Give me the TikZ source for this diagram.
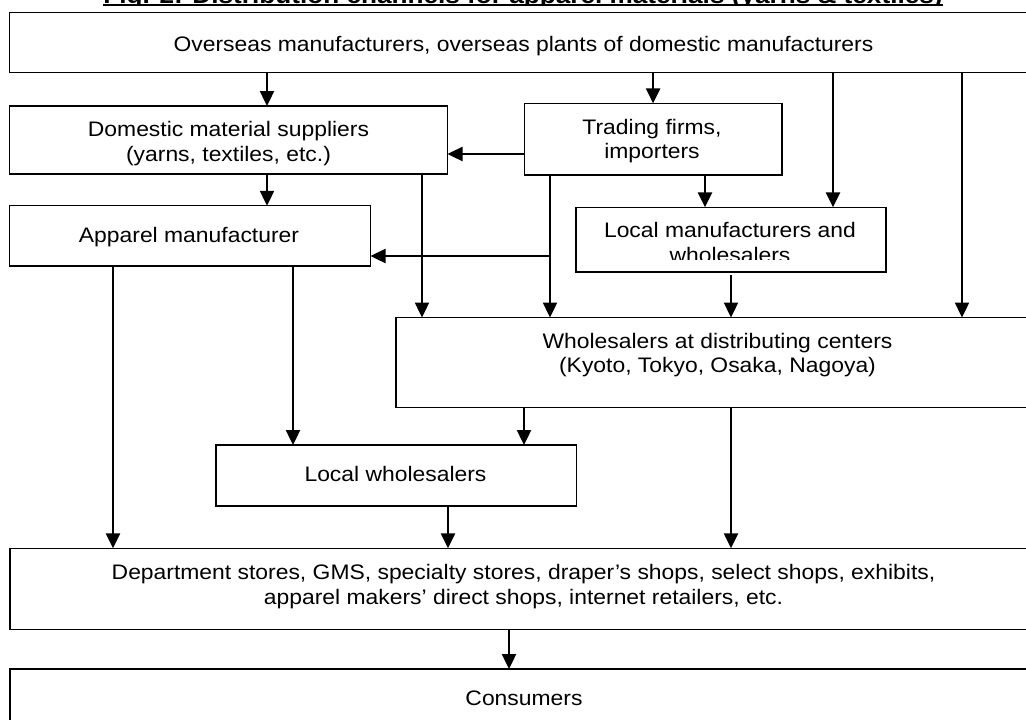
\documentclass[tikz,border=0pt]{standalone}
\usepackage{fontspec}
\setmainfont{Liberation Sans}[FakeStretch=1.09]
\usetikzlibrary{arrows.meta}
\begin{document}
\begin{tikzpicture}[x=1pt,y=-1pt,
  box/.style={draw, line width=1.4pt, inner sep=0pt, outer sep=0pt},
  txt/.style={inner sep=0pt, anchor=base, font=\fontsize{21}{24.3}\selectfont},
  arr/.style={line width=2.4pt, -{Triangle[width=14pt,length=15pt]}},
  lin/.style={line width=2.4pt}]
\useasboundingbox (0,0) rectangle (1026,720);
\fill[white] (0,0) rectangle (1026,720);
\clip (0,0) rectangle (1026,720);

% title (mostly cut off at the top)
\begin{scope}
\clip (0,-40) rectangle (1026,4.2);
\node[inner sep=0pt, anchor=base, font=\bfseries\fontsize{24}{28}\selectfont] (title) at (523,3.8)
  {Fig. 2: Distribution channels for apparel materials (yarns \& textiles)};
\end{scope}
\draw[line width=1.8pt] ([yshift=-1.4pt]title.base west) -- ([yshift=-1.4pt]title.base east);

% boxes
\node[box, minimum width=1028pt, minimum height=60pt] (top) at (523.3,42.7) {};
\node[box, minimum width=438pt, minimum height=68pt] (dom) at (228.5,140) {};
\node[box, minimum width=257.8pt, minimum height=71.4pt] (trd) at (653.1,139.1) {};
\node[box, minimum width=361pt, minimum height=60.3pt] (app) at (190,235.9) {};
\node[box, minimum width=309.7pt, minimum height=64.5pt] (lm) at (731,239.6) {};
\node[box, minimum width=641pt, minimum height=89.8pt] (wd) at (716.5,362.4) {};
\node[box, minimum width=360.7pt, minimum height=61pt] (lw) at (396.3,475.5) {};
\node[box, minimum width=1027pt, minimum height=81pt] (dept) at (523.5,588.8) {};
\node[box, minimum width=1027pt, minimum height=59pt] (cons) at (523.5,698.5) {};

% texts
\node[txt] (topt) at (523.5,51) {Overseas manufacturers, overseas plants of domestic manufacturers};
\node[txt] (domt1) at (228.5,136.7) {Domestic material suppliers};
\node[txt] (domt2) at (228.5,161) {(yarns, textiles, etc.)};
\node[txt] (trdt1) at (652,134.6) {Trading firms,};
\node[txt] (trdt2) at (652,158.8) {importers};
\node[txt] (appt) at (189,242.7) {Apparel manufacturer};
\node[txt] (lmt1) at (730,237.7) {Local manufacturers and};
\begin{scope}
\clip (577,200) rectangle (885,259.3);
\node[txt] (lmt2) at (730,262) {wholesalers};
\end{scope}
\node[txt] (wdt1) at (717.5,348.4) {Wholesalers at distributing centers};
\node[txt] (wdt2) at (717.5,372.9) {(Kyoto, Tokyo, Osaka, Nagoya)};
\node[txt] (lwt) at (395.5,481) {Local wholesalers};
\node[txt] (deptt1) at (523.5,579.5) {Department stores, GMS, specialty stores, draper’s shops, select shops, exhibits,};
\node[txt] (deptt2) at (523.5,604) {apparel makers’ direct shops, internet retailers, etc.};
\node[txt] (const) at (524,705) {Consumers};

% connector x / y positions
\coordinate (xa) at (113,0);
\coordinate (xb) at (267,0);
\coordinate (xc) at (293,0);
\coordinate (xd) at (422,0);
\coordinate (xe) at (448,0);
\coordinate (xf) at (509,0);
\coordinate (xg) at (524,0);
\coordinate (xh) at (550,0);
\coordinate (xj) at (705,0);
\coordinate (xk) at (731,0);
\coordinate (xl) at (833,0);
\coordinate (xm) at (962,0);
\coordinate (ya) at (0,154);
\coordinate (yb) at (0,256);
\coordinate (br) at (xh |- yb);
\coordinate (lmout) at ([yshift=-3.5pt]lm.south);

% connectors
\draw[arr] (top.south -| xb) -- (dom.north -| xb);
\draw[arr] (top.south -| trd.north) -- (trd.north);
\draw[arr] (top.south -| xl) -- (lm.north -| xl);
\draw[arr] (top.south -| xm) -- (wd.north -| xm);
\draw[arr] (trd.west |- ya) -- (dom.east |- ya);
\draw[arr] (dom.south -| xb) -- (app.north -| xb);
\draw[arr] (dom.south -| xd) -- (wd.north -| xd);
\draw[arr] (trd.south -| xh) -- (wd.north -| xh);
\draw[arr] (br) -- (app.east |- br);
\draw[arr] (trd.south -| xj) -- (lm.north -| xj);
\draw[arr] (lmout) -- (wd.north -| lmout);
\draw[arr] (app.south -| xa) -- (dept.north -| xa);
\draw[arr] (app.south -| xc) -- (lw.north -| xc);
\draw[arr] (wd.south -| xg) -- (lw.north -| xg);
\draw[arr] (wd.south -| xk) -- (dept.north -| xk);
\draw[arr] (lw.south -| xe) -- (dept.north -| xe);
\draw[arr] (dept.south -| xf) -- (cons.north -| xf);
\end{tikzpicture}
\end{document}
